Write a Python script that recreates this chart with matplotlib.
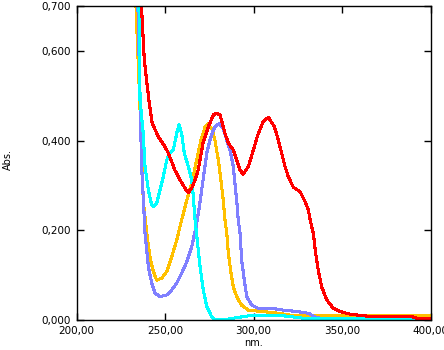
import matplotlib
matplotlib.use("Agg")
import matplotlib.pyplot as plt

# absorbance spectra (nm, Abs.)
red_nm = [232, 236.7, 238.3, 240.9, 242.8, 246.2, 250, 251.9, 255.6, 258.5, 262.3, 263.3,
          265, 267, 268.8, 271.5, 274.5, 277.3, 279.2, 281.1, 283.9, 285.8, 288.6, 290.5,
          292.4, 294.2, 297.1, 299.9, 302.7, 305.5, 308.4, 311.8, 314, 315.9, 317.8, 319.7,
          322.5, 326.3, 329.1, 331, 331.9, 333.8, 335.1, 336.6, 338.5, 341.4, 345.1, 348.9,
          354.5, 367.5, 390, 392, 400]
red_abs = [0.90, 0.70, 0.58, 0.49, 0.438, 0.409, 0.386, 0.372, 0.334, 0.312, 0.287, 0.285,
           0.293, 0.312, 0.335, 0.395, 0.431, 0.457, 0.461, 0.457, 0.416, 0.394, 0.379, 0.357,
           0.334, 0.325, 0.342, 0.379, 0.416, 0.442, 0.452, 0.431, 0.401, 0.372, 0.342, 0.319,
           0.296, 0.286, 0.264, 0.245, 0.225, 0.193, 0.149, 0.111, 0.074, 0.045, 0.026, 0.019,
           0.013, 0.007, 0.007, 0.004, 0.004]

cyan_nm = [232, 235.3, 235.9, 237.7, 238.7, 240.6, 242.5, 243.4, 245.3, 247.2, 249, 251,
           252.8, 254.7, 256.6, 257.9, 259.4, 260.9, 263.2, 265.1, 266, 267, 268.8, 269.8,
           271.6, 273.6, 276.4, 278.5, 283, 286, 290, 295.2, 300, 312, 320, 330, 340, 360, 400]
cyan_abs = [0.95, 0.70, 0.49, 0.416, 0.342, 0.290, 0.256, 0.253, 0.260, 0.290, 0.319, 0.357,
            0.372, 0.379, 0.416, 0.435, 0.416, 0.372, 0.342, 0.312, 0.275, 0.223, 0.156, 0.119,
            0.067, 0.030, 0.007, 0.0, 0.0, 0.002, 0.005, 0.008, 0.011, 0.011, 0.008, 0.003,
            0.003, 0.003, 0.003]

orange_nm = [232, 233.6, 235.9, 237.7, 239.7, 241.5, 243.4, 245.3, 248.1, 251, 253.8, 256.6,
             259.4, 262.3, 265.1, 267.9, 270.3, 272.6, 274.1, 276.4, 278.2, 280.1, 281.6, 282.9,
             283.9, 284.9, 285.8, 287.3, 288.6, 290.5, 293.3, 297.1, 304.6, 312.1, 320.6, 333.8,
             350, 400]
orange_abs = [0.95, 0.70, 0.47, 0.267, 0.193, 0.141, 0.108, 0.089, 0.093, 0.108, 0.141, 0.178,
              0.223, 0.267, 0.305, 0.357, 0.401, 0.430, 0.437, 0.427, 0.401, 0.357, 0.312, 0.267,
              0.223, 0.193, 0.149, 0.104, 0.074, 0.052, 0.033, 0.022, 0.019, 0.016, 0.011, 0.009,
              0.009, 0.009]

violet_nm = [232, 234.7, 235.9, 236.8, 237.9, 238.7, 240.6, 242.5, 244.4, 247.2, 251, 253.8,
             256.6, 259.4, 262.3, 265.1, 267.9, 269.5, 271.6, 273.6, 275.4, 277.3, 279.2, 280.5,
             282.9, 284.9, 286.7, 288.6, 289.5, 290.5, 291.4, 292.4, 293.3, 294.8, 296.2, 299,
             302.7, 305, 312, 316.8, 324.4, 331, 334.7, 337.6, 345, 400]
violet_abs = [0.95, 0.70, 0.49, 0.342, 0.26, 0.193, 0.119, 0.082, 0.060, 0.052, 0.056, 0.067,
              0.082, 0.104, 0.130, 0.163, 0.215, 0.255, 0.315, 0.372, 0.401, 0.424, 0.435, 0.437,
              0.427, 0.401, 0.379, 0.342, 0.305, 0.267, 0.223, 0.193, 0.134, 0.089, 0.052, 0.033,
              0.026, 0.025, 0.025, 0.022, 0.019, 0.015, 0.007, 0.004, 0.002, 0.002]

x_ticks = [200, 250, 300, 350, 400]
x_labels = ["200,00", "250,00", "300,00", "350,00", "400,00"]
y_ticks = [0.0, 0.2, 0.4, 0.6, 0.7]
y_labels = ["0,000", "0,200", "0,400", "0,600", "0,700"]

fig = plt.figure(figsize=(4.44, 3.5), dpi=100)
ax = fig.add_axes([76.5 / 444, 30 / 350, 354 / 444, 314 / 350])

ax.plot(orange_nm, orange_abs, color="#ffc000", lw=1.5, antialiased=False)
ax.plot(violet_nm, violet_abs, color="#8080ff", lw=1.5, antialiased=False)
ax.plot(cyan_nm, cyan_abs, color="#00ffff", lw=1.5, antialiased=False)
ax.plot(red_nm, red_abs, color="#ff0000", lw=1.5, antialiased=False)

ax.set_xlim(200, 400)
ax.set_ylim(0, 0.7)
ax.set_xticks(x_ticks)
ax.set_xticklabels(x_labels)
ax.set_yticks(y_ticks)
ax.set_yticklabels(y_labels)
ax.tick_params(direction="in", length=5, width=1, labelsize=7.5, pad=4,
               top=True, right=True)
for s in ax.spines.values():
    s.set_linewidth(1)

ax.set_xlabel("nm.", fontsize=7, labelpad=2)
fig.text(8 / 444, 1 - 160 / 350, "Abs.", rotation=90, fontsize=7,
         ha="center", va="center")

fig.savefig("out.png", dpi=100)
